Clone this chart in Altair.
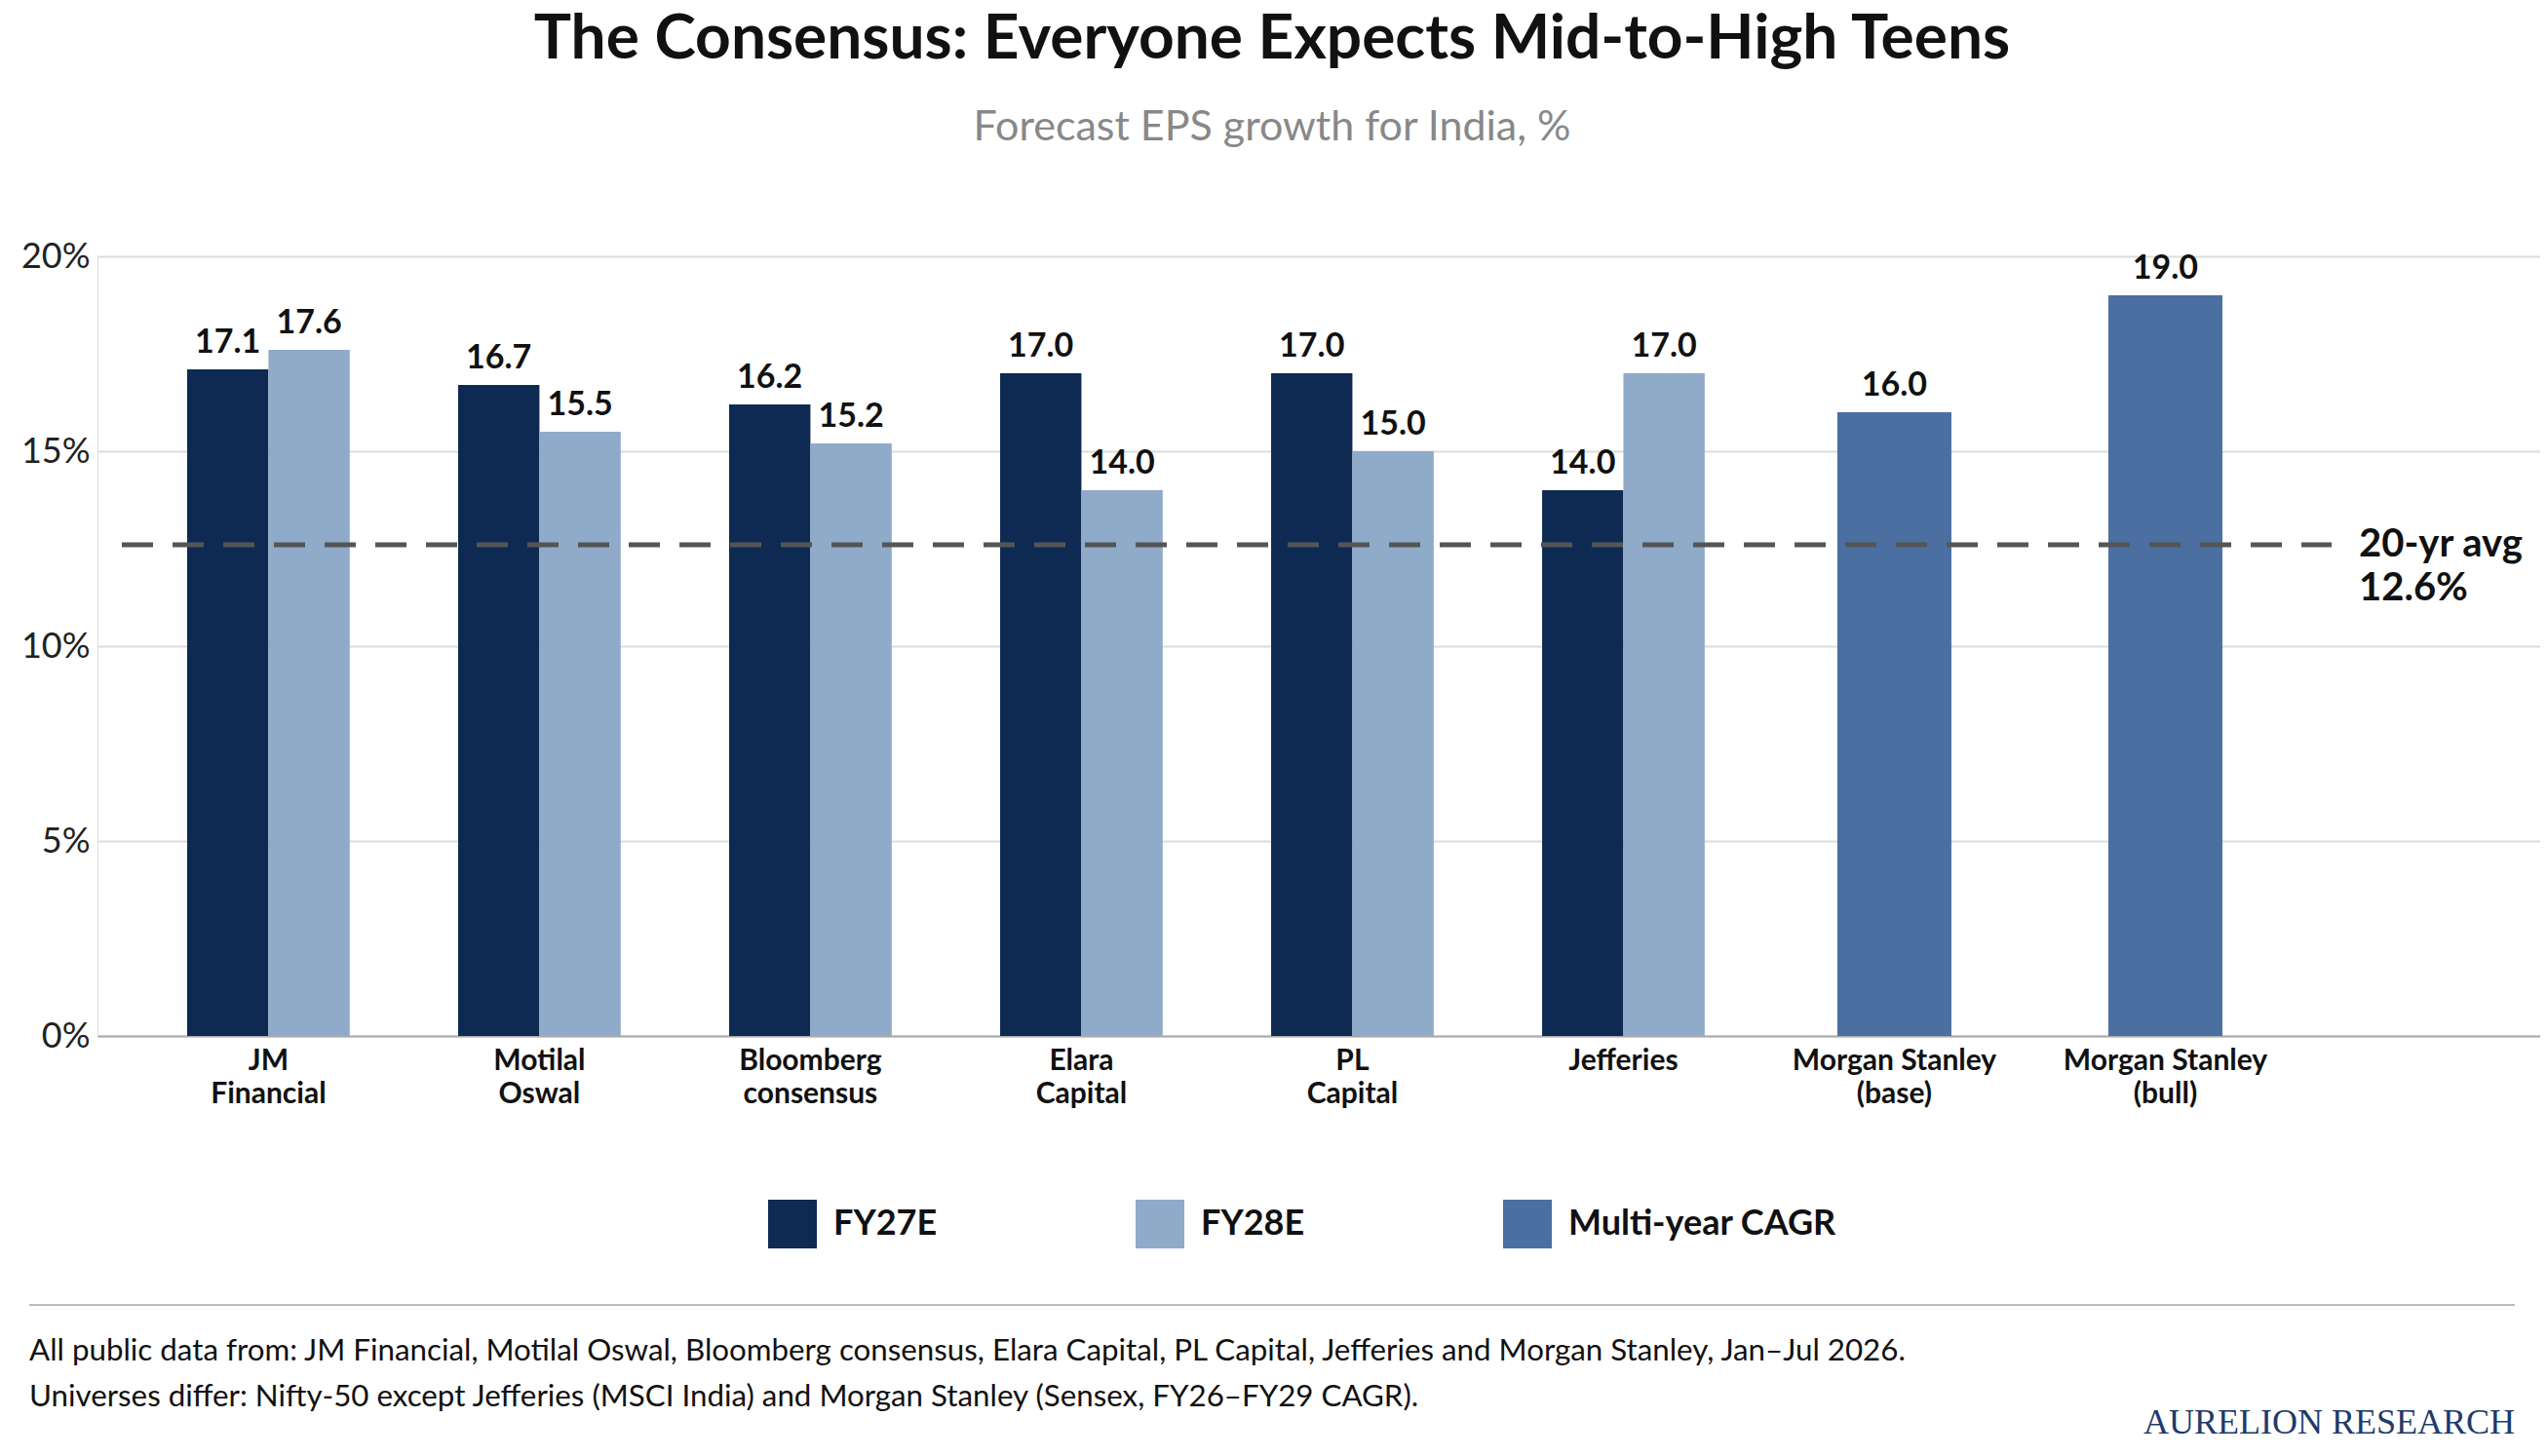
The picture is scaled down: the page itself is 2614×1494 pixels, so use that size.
import altair as alt
import pandas as pd

brokers = ["JM|Financial", "Motilal|Oswal", "Bloomberg|consensus", "Elara|Capital",
           "PL|Capital", "Jefferies", "Morgan Stanley|(base)", "Morgan Stanley|(bull)"]
fy27 = [17.1, 16.7, 16.2, 17.0, 17.0, 14.0]
fy28 = [17.6, 15.5, 15.2, 14.0, 15.0, 17.0]
cagr = [16.0, 19.0]
avg20 = 12.6

series = ["FY27E", "FY28E", "Multi-year CAGR"]
colors = ["#0e2a52", "#8fabc9", "#4b6fa0"]

pairs = pd.DataFrame(
    [{"broker": b, "series": "FY27E", "v": v} for b, v in zip(brokers[:6], fy27)]
    + [{"broker": b, "series": "FY28E", "v": v} for b, v in zip(brokers[:6], fy28)]
)
singles = pd.DataFrame({"broker": brokers[6:], "series": "Multi-year CAGR", "v": cagr})

FONT = "Lato"
xscale = alt.Scale(domain=brokers, paddingInner=0.4, paddingOuter=0.707, align=0.234)
color = alt.Color("series:N", scale=alt.Scale(domain=series, range=colors),
                  legend=alt.Legend(title=None, orient="none", legendX=687, legendY=967,
                                    direction="horizontal", columns=3, gridAlign="all",
                                    symbolType="square", symbolSize=2500, symbolOpacity=1,
                                    labelFont=FONT, labelFontSize=36, labelFontWeight="bold",
                                    labelColor="#111", columnPadding=34, labelOffset=16,
                                    labelLimit=600))
x = alt.X("broker:N", scale=xscale, sort=brokers, title=None,
          axis=alt.Axis(labelExpr="split(datum.label, '|')", labelAngle=0, labelFont=FONT,
                        labelFontSize=30, labelFontWeight="bold", labelColor="#111",
                        labelLineHeight=34, labelPadding=10, ticks=False, labelLimit=600,
                        domainColor="#aaa", domainWidth=2, grid=False))
y = alt.Y("v:Q", scale=alt.Scale(domain=[0, 20]), title=None,
          axis=alt.Axis(values=[0, 5, 10, 15, 20], labelExpr="datum.value + '%'",
                        labelFont=FONT, labelFontSize=36, labelColor="#222", ticks=False,
                        domain=False, gridColor="#dcdcdc", gridWidth=2, labelPadding=8))
xoff = alt.XOffset("series:N", scale=alt.Scale(domain=["FY27E", "FY28E"]))

bars = alt.Chart(pairs).mark_bar().encode(x=x, y=y, xOffset=xoff, color=color)
blabels = alt.Chart(pairs).mark_text(baseline="bottom", dy=-10, font=FONT, fontSize=34,
                                     fontWeight="bold", color="#111").encode(
    x=x, y=y, xOffset=xoff, text=alt.Text("v:Q", format=".1f"))
sbars = alt.Chart(singles).mark_bar(width=117).encode(x=x, y=y, color=color)
slabels = alt.Chart(singles).mark_text(baseline="bottom", dy=-10, font=FONT, fontSize=34,
                                       fontWeight="bold", color="#111").encode(
    x=x, y=y, text=alt.Text("v:Q", format=".1f"))

avgdf = pd.DataFrame({"v": [avg20], "t": [["20-yr avg", "12.6%"]]})
rule = alt.Chart(avgdf).mark_rule(color="#555", strokeWidth=5, strokeDash=[32, 20]).encode(
    y="v:Q", x=alt.value(25), x2=alt.value(2292))
avgtext = alt.Chart(avgdf).mark_text(align="left", baseline="middle", font=FONT, fontSize=40,
                                     fontWeight="bold", color="#111", lineHeight=45).encode(
    y="v:Q", x=alt.value(2320), text="t")

def txt(s, xp, yp, size, align="center", weight="normal", col="#111", font=FONT):
    return alt.Chart(pd.DataFrame({"t": [s]})).mark_text(
        align=align, baseline="middle", fontSize=size, fontWeight=weight, color=col, font=font
    ).encode(x=alt.value(xp), y=alt.value(yp), text="t:N")

title = txt("The Consensus: Everyone Expects Mid-to-High Teens", 1205, -222, 64, weight="bold")
subtitle = txt("Forecast EPS growth for India, %", 1205, -132, 43, col="#888")
foot1 = txt("All public data from: JM Financial, Motilal Oswal, Bloomberg consensus, Elara Capital, "
            "PL Capital, Jefferies and Morgan Stanley, Jan\u2013Jul 2026.", -70, 1124, 31.3, align="left")
foot2 = txt("Universes differ: Nifty-50 except Jefferies (MSCI India) and Morgan Stanley "
            "(Sensex, FY26\u2013FY29 CAGR).", -70, 1171, 31.3, align="left")
brand = txt("AURELION RESEARCH", 2480, 1197, 36, align="right", col="#1d3a6b",
            font="Liberation Serif")
footline = alt.Chart(pd.DataFrame({"a": [0]})).mark_rule(color="#bbb", strokeWidth=2).encode(
    x=alt.value(-70), x2=alt.value(2480), y=alt.value(1076))

chart = alt.layer(bars, sbars, blabels, slabels, rule, avgtext, title, subtitle,
                  footline, foot1, foot2, brand).properties(
    width=2506, height=800, autosize=alt.AutoSizeParams(type="none"),
    padding={"left": 92, "top": 255, "right": 0, "bottom": 423}
).configure_view(stroke=None).configure(background="white")

chart.save("out.html", embed_options={"renderer": "svg", "actions": False})
